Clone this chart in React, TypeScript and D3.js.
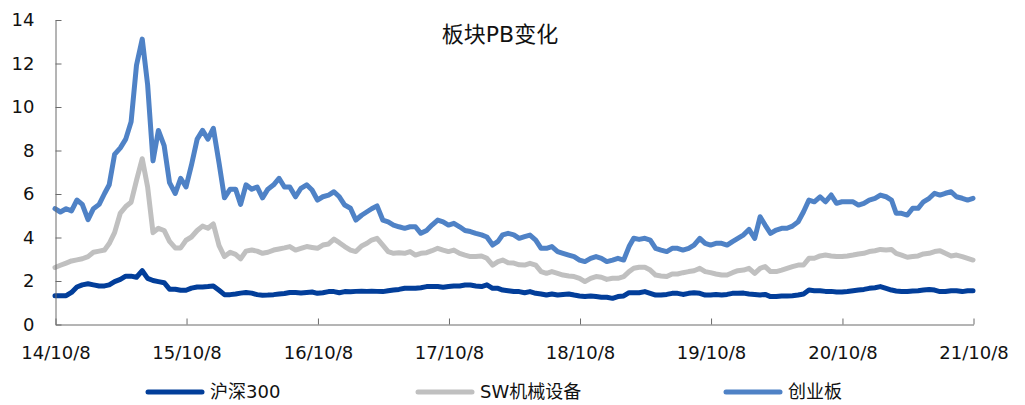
import React, { useEffect, useRef } from "react";
import * as d3 from "d3";

// half-month samples: the 8th and the 23rd of every month, 14/10/8 .. 21/10/8
const dates = d3.range(169).map(i => new Date(2014, 9 + Math.floor(i / 2), i % 2 ? 23 : 8));
const yearTicks = d3.range(8).map(k => new Date(2014 + k, 9, 8));
const yTicks = [0, 2, 4, 6, 8, 10, 12, 14];

const seriesNames = ["沪深300", "SW机械设备", "创业板"];
const seriesColors = ["#023E9A", "#C0C0C0", "#4F82C6"];

const hs300 = [
  1.3, 1.3, 1.3, 1.45, 1.7, 1.8, 1.85, 1.8, 1.75, 1.75,
  1.8, 1.95, 2.05, 2.2, 2.2, 2.15, 2.45, 2.1, 2.0, 1.95,
  1.9, 1.6, 1.6, 1.55, 1.55, 1.65, 1.7, 1.7, 1.72, 1.75,
  1.55, 1.35, 1.35, 1.38, 1.42, 1.45, 1.42, 1.35, 1.32, 1.33,
  1.35, 1.38, 1.4, 1.45, 1.45, 1.43, 1.45, 1.47, 1.41, 1.44,
  1.49, 1.49, 1.44, 1.49, 1.48, 1.5, 1.51, 1.5, 1.51, 1.5,
  1.49, 1.53, 1.56, 1.59, 1.64, 1.64, 1.64, 1.67, 1.72, 1.72,
  1.72, 1.69, 1.72, 1.75, 1.75, 1.79, 1.79, 1.75, 1.72, 1.8,
  1.64, 1.64, 1.56, 1.53, 1.49, 1.49, 1.44, 1.49, 1.41, 1.38,
  1.33, 1.38, 1.33, 1.36, 1.38, 1.33, 1.29, 1.26, 1.29, 1.26,
  1.23, 1.23, 1.18, 1.26, 1.29, 1.44, 1.44, 1.44, 1.49, 1.41,
  1.33, 1.33, 1.36, 1.41, 1.41, 1.36, 1.41, 1.44, 1.41, 1.33,
  1.33, 1.36, 1.33, 1.36, 1.41, 1.41, 1.42, 1.38, 1.36, 1.33,
  1.36, 1.26, 1.26, 1.29, 1.29, 1.3, 1.33, 1.38, 1.56, 1.53,
  1.53, 1.5, 1.5, 1.47, 1.47, 1.49, 1.53, 1.56, 1.59, 1.64,
  1.67, 1.72, 1.64, 1.56, 1.52, 1.49, 1.49, 1.52, 1.53, 1.56,
  1.59, 1.56, 1.49, 1.49, 1.53, 1.53, 1.49, 1.53, 1.53,
];

const swMachinery = [
  2.6, 2.7, 2.8, 2.9, 2.95, 3.0, 3.1, 3.3, 3.35, 3.4,
  3.7, 4.2, 5.1, 5.4, 5.6, 6.6, 7.6, 6.3, 4.2, 4.4,
  4.3, 3.8, 3.5, 3.5, 3.85, 4.0, 4.3, 4.5, 4.4, 4.6,
  3.6, 3.1, 3.3, 3.2, 3.0, 3.35, 3.4, 3.35, 3.25, 3.3,
  3.4, 3.45, 3.5, 3.56, 3.4, 3.48, 3.56, 3.52, 3.48, 3.63,
  3.68, 3.9, 3.74, 3.56, 3.4, 3.33, 3.59, 3.71, 3.86, 3.94,
  3.63, 3.33, 3.25, 3.28, 3.25, 3.33, 3.17, 3.25, 3.28, 3.37,
  3.48, 3.4, 3.33, 3.4, 3.25, 3.17, 3.1, 3.1, 3.13, 3.02,
  2.71, 2.87, 2.94, 2.82, 2.8, 2.72, 2.71, 2.79, 2.71, 2.41,
  2.33, 2.41, 2.33, 2.25, 2.21, 2.18, 2.1, 1.95, 2.1, 2.18,
  2.15, 2.05, 2.1, 2.1, 2.18, 2.41, 2.56, 2.61, 2.61, 2.48,
  2.25, 2.21, 2.18, 2.3, 2.3, 2.36, 2.41, 2.45, 2.56, 2.41,
  2.36, 2.3, 2.25, 2.25, 2.36, 2.45, 2.48, 2.56, 2.33, 2.56,
  2.64, 2.41, 2.41, 2.48, 2.56, 2.64, 2.71, 2.71, 3.02, 3.02,
  3.13, 3.17, 3.13, 3.1, 3.1, 3.13, 3.17, 3.22, 3.25, 3.33,
  3.37, 3.43, 3.4, 3.43, 3.25, 3.17, 3.07, 3.1, 3.13, 3.22,
  3.25, 3.33, 3.37, 3.25, 3.13, 3.17, 3.1, 3.02, 2.94,
];

const chinext = [
  5.3, 5.15, 5.3, 5.2, 5.7, 5.5, 4.8, 5.3, 5.5, 6.0,
  6.4, 7.8, 8.1, 8.5, 9.3, 11.9, 13.1, 11.0, 7.5, 8.9,
  8.2, 6.5, 6.0, 6.7, 6.3, 7.3, 8.5, 8.9, 8.5, 9.0,
  7.4, 5.8, 6.2, 6.2, 5.5, 6.4, 6.2, 6.3, 5.8, 6.2,
  6.4, 6.7, 6.3, 6.3, 5.85, 6.24, 6.4, 6.16, 5.7, 5.85,
  5.93, 6.08, 5.85, 5.47, 5.32, 4.78, 5.0, 5.16, 5.3, 5.43,
  4.78, 4.7, 4.55, 4.47, 4.4, 4.47, 4.47, 4.17, 4.3, 4.55,
  4.78, 4.7, 4.55, 4.63, 4.47, 4.3, 4.25, 4.17, 4.1, 4.0,
  3.63, 3.8, 4.1, 4.17, 4.1, 3.94, 4.02, 4.09, 3.86, 3.48,
  3.48, 3.56, 3.33, 3.25, 3.17, 3.1, 2.94, 2.87, 3.02, 3.1,
  3.02, 2.87, 2.94, 3.02, 2.94, 3.56, 3.94, 3.89, 3.94, 3.86,
  3.48, 3.4, 3.33, 3.48, 3.48, 3.4, 3.48, 3.63, 3.94, 3.71,
  3.63, 3.71, 3.71, 3.63, 3.79, 3.94, 4.1, 4.35, 3.94, 4.93,
  4.55, 4.17, 4.32, 4.4, 4.4, 4.5, 4.7, 5.16, 5.7, 5.62,
  5.85, 5.62, 5.93, 5.55, 5.62, 5.62, 5.62, 5.47, 5.55, 5.7,
  5.78, 5.93, 5.85, 5.7, 5.09, 5.09, 5.01, 5.32, 5.32, 5.62,
  5.78, 6.01, 5.93, 6.01, 6.08, 5.85, 5.78, 5.7, 5.78,
];

const allSeries = [hs300, swMachinery, chinext];

const FONT = '"DejaVu Sans", "Noto Sans CJK SC", sans-serif';
const W = 1025;
const H = 405;
const margin = { left: 55, right: 52, top: 19.5, bottom: 81 };

export default function App() {
  const xAxisRef = useRef<SVGGElement>(null);
  const yAxisRef = useRef<SVGGElement>(null);

  const x = d3.scaleTime()
    .domain([yearTicks[0], yearTicks[yearTicks.length - 1]])
    .range([margin.left, W - margin.right]);
  const y = d3.scaleLinear()
    .domain([0, 14])
    .range([H - margin.bottom, margin.top]);

  const line = d3.line<number>()
    .x((_, i) => x(dates[i]))
    .y(d => y(d));

  useEffect(() => {
    const fmt = (d: Date) => `${String(d.getFullYear()).slice(2)}/${d.getMonth() + 1}/${d.getDate()}`;
    const xAxis = d3.axisBottom<Date>(x)
      .tickValues(yearTicks)
      .tickFormat(fmt)
      .tickSizeInner(-6)
      .tickSizeOuter(0)
      .tickPadding(22);
    const yAxis = d3.axisLeft(y)
      .tickValues(yTicks)
      .tickSizeInner(-6)
      .tickSizeOuter(0)
      .tickPadding(21);

    const gx = d3.select(xAxisRef.current!).call(xAxis as any);
    const gy = d3.select(yAxisRef.current!).call(yAxis as any);
    [gx, gy].forEach(g => {
      g.selectAll("path, line").attr("stroke", "#6b6b6b");
      g.selectAll("text")
        .attr("fill", "#111")
        .style("font-family", FONT)
        .style("font-size", "18px");
    });
  }, []);

  const legendX = [148, 418, 726];

  return (
    <svg width={W} height={H} style={{ position: "absolute", left: 0, top: 0, background: "#fff" }}>
      <text x={500} y={42} textAnchor="middle" fontFamily={FONT} fontSize={22} fill="#111">板块PB变化</text>

      {allSeries.map((s, k) => (
        <path key={k} d={line(s) ?? ""} fill="none" stroke={seriesColors[k]}
          strokeWidth={5} strokeLinejoin="round" strokeLinecap="round" />
      ))}

      <g ref={xAxisRef} transform={`translate(0.5,${H - margin.bottom + 0.5})`} />
      <g ref={yAxisRef} transform={`translate(${margin.left + 0.5},0.5)`} />

      {seriesNames.map((name, k) => (
        <g key={name} transform={`translate(${legendX[k]},392)`}>
          <line x1={0} x2={54} y1={0} y2={0} stroke={seriesColors[k]} strokeWidth={5} strokeLinecap="round" />
          <text x={62} y={0} dy="0.36em" fontFamily={FONT} fontSize={18} fill="#111">{name}</text>
        </g>
      ))}
    </svg>
  );
}
